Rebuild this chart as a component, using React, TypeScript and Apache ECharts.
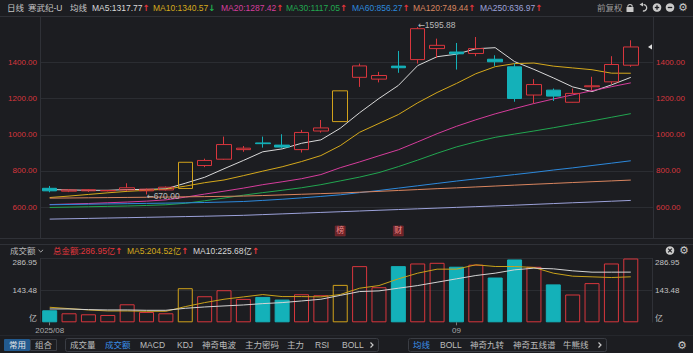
import React, { useEffect, useRef } from 'react';
import * as echarts from 'echarts';

// ---------- data ----------
const dates = [
  '2025-08-01', '2025-08-04', '2025-08-05', '2025-08-06', '2025-08-07', '2025-08-08',
  '2025-08-11', '2025-08-12', '2025-08-13', '2025-08-14', '2025-08-15',
  '2025-08-18', '2025-08-19', '2025-08-20', '2025-08-21', '2025-08-22',
  '2025-08-25', '2025-08-26', '2025-08-27', '2025-08-28', '2025-08-29',
  '2025-09-01', '2025-09-02', '2025-09-03', '2025-09-04', '2025-09-05',
  '2025-09-08', '2025-09-09', '2025-09-10', '2025-09-11', '2025-09-12',
];

// [open, close, low, high]
const ohlc = [
  [704, 690, 682, 717], [688, 695, 683, 700], [690, 696, 684, 700], [690, 692, 687, 695],
  [695, 707, 690, 732], [690, 699, 670, 703], [695, 710, 692, 714], [703, 848, 702, 848],
  [830, 858, 821, 868], [865, 946, 862, 990], [918, 926, 906, 938], [955, 951, 929, 990],
  [943, 932, 926, 1003], [918, 1013, 902, 1027], [1021, 1038, 1012, 1082], [1073, 1243.2, 1072, 1244],
  [1318, 1381, 1265, 1394], [1308, 1328, 1290, 1348], [1380, 1371, 1343, 1464], [1416, 1587, 1394, 1595.88],
  [1477, 1495, 1425, 1532], [1458, 1448, 1361, 1508], [1450, 1477, 1435, 1541], [1418, 1404, 1381, 1440],
  [1376, 1201, 1183, 1394], [1220, 1278, 1174, 1308], [1247, 1214, 1187, 1256], [1180, 1229, 1179, 1256],
  [1266, 1271, 1247, 1321], [1293, 1389, 1280, 1435], [1385, 1486, 1376, 1523],
];
const limitUpIdx = [7, 15];

const ma5 = [697, 695, 693, 693, 697, 698, 701, 732, 765, 812, 858, 906, 922, 953, 972, 1036, 1122, 1201, 1273, 1383, 1432, 1446, 1476, 1482, 1405, 1362, 1315, 1265, 1239, 1276, 1317.77];
const ma10 = [653, 661, 670, 679, 687, 693, 699, 716, 735, 750, 774, 799, 823, 852, 885, 940, 1014, 1063, 1112, 1177, 1234, 1284, 1338, 1377, 1394, 1397, 1380, 1370, 1360, 1341, 1340.57];
const ma20 = [614, 617, 620, 624, 628, 633, 640, 655, 672, 688, 705, 724, 740, 757, 780, 818, 850, 884, 917, 961, 1006, 1047, 1083, 1116, 1145, 1173, 1198, 1221, 1244, 1266, 1287.42];
const ma30 = [598, 600, 602, 604, 606, 609, 613, 621, 635, 650, 666, 680, 693, 707, 724, 745, 766, 791, 824, 860, 898, 933, 961, 986, 1004, 1021, 1039, 1058, 1077, 1097, 1117.05];
const ma60 = [613, 614.5, 616, 617.5, 619, 620.5, 622, 623.5, 625.5, 628, 631, 637, 643.5, 651, 659, 668, 680, 692, 705, 718, 731, 744, 756, 768, 780, 792, 805, 817, 830, 843, 856.27];
const ma120 = [649.5, 650.5, 651.5, 652.5, 653.5, 654.5, 655.5, 657, 658, 659.5, 661, 664, 667.5, 671, 674.5, 678, 682.5, 687, 692, 697, 702, 706.5, 711.5, 716.5, 721.5, 726.5, 731, 736, 740.5, 745, 749.44];
const ma250 = [533.5, 535.5, 537.5, 539.5, 541.5, 543.5, 545.5, 547.5, 549.5, 552, 554.5, 558.5, 562.5, 566.5, 570.5, 574.5, 578.5, 582.5, 586.5, 590.5, 594.5, 598.5, 602.5, 606.5, 610.5, 615, 619.5, 624, 628, 632.5, 636.97];

// turnover, 亿
const volume = [54, 40.5, 36, 33, 81, 46.5, 40.5, 153.3, 117.2, 144.3, 105.2, 114.2, 102.2, 126.2, 121.7, 168.3, 252.6, 157.8, 252.6, 264.6, 267.6, 250, 259, 201.4, 282.6, 249.6, 170.5, 125, 176.2, 264.6, 286.95];
const volMa5 = [67.6, 61.6, 55.5, 51, 51, 49.5, 49.5, 70.6, 88.6, 103.7, 114.2, 124.7, 115.7, 115.7, 114.2, 125, 153.3, 165.3, 195.4, 221, 239, 239, 258.6, 251, 251, 246.5, 221, 207.4, 204.4, 201.4, 204.52];
const volMa10 = [60, 60, 57, 55.5, 55.5, 54, 54, 63, 69, 73.6, 78, 84, 88.6, 96, 103.7, 121, 138.3, 141.3, 153.3, 165.3, 180.4, 195.4, 210.4, 221, 236, 243.5, 240.5, 231.5, 225.5, 225.5, 225.68];

const maLegend = [
  { name: 'MA5', value: '1317.77', up: true },
  { name: 'MA10', value: '1340.57', up: false },
  { name: 'MA20', value: '1287.42', up: true },
  { name: 'MA30', value: '1117.05', up: true },
  { name: 'MA60', value: '856.27', up: true },
  { name: 'MA120', value: '749.44', up: true },
  { name: 'MA250', value: '636.97', up: true },
];
const volLegend = [
  { name: '总金额', value: '286.95亿' },
  { name: 'MA5', value: '204.52亿' },
  { name: 'MA10', value: '225.68亿' },
];
const priceMin = 400;
const priceMax = 1600;
const priceStep = 200;
const volMax = 286.95;
const highMark = { idx: 19, value: 1595.88 };
const lowMark = { idx: 5, value: 670.0 };
const eventMarks = [{ idx: 15, text: '榜' }, { idx: 18, text: '财' }];
const toolbarA = ['成交量', '成交额', 'MACD', 'KDJ', '神奇电波', '主力密码', '主力', 'RSI', 'BOLL'];
const toolbarB = ['均线', 'BOLL', '神奇九转', '神奇五线谱', '牛熊线'];

// ---------- styles ----------
const BG = '#1c1d21';
const UP = '#d8363d';
const DOWN = '#14b1b9';
const LIMIT = '#d1a21b';
const GRIDC = '#2b2d32';
const BORDER = '#2f3137';
const FONT = "'Liberation Sans', 'Noto Sans CJK SC', sans-serif";
const ARROW_FONT = "'DejaVu Sans', sans-serif";
const MA_COLORS = ['#d9d9d9', '#d5a91c', '#d63d9c', '#22a650', '#2d89dc', '#d9855f', '#9ca2da'];
const maSeries = [ma5, ma10, ma20, ma30, ma60, ma120, ma250];

const bandCount = dates.length + 1;
const band = 19.37;

function extremeLabel(v: number, dy: number) {
  return {
    show: true, position: 'right', distance: 0, offset: [0, dy],
    formatter: `{a|←}{t|${v.toFixed(2)}}`,
    rich: {
      a: { color: '#b9b9b9', fontSize: 8.5, fontFamily: ARROW_FONT },
      t: { color: '#b9b9b9', fontSize: 8.5, fontFamily: FONT },
    },
  };
}

function buildOption(): any {
  const cats = [...dates, ''];
  const candleData = ohlc.map((d, i) =>
    limitUpIdx.includes(i)
      ? { value: d, itemStyle: { color: 'transparent', borderColor: LIMIT, borderColor0: LIMIT } }
      : d
  );
  const volData = volume.map((v, i) => {
    const [o, c] = ohlc[i];
    const up = c >= o;
    const lim = limitUpIdx.includes(i);
    return {
      value: v,
      itemStyle: up
        ? { color: 'transparent', borderColor: lim ? LIMIT : UP, borderWidth: 1 }
        : { color: DOWN, borderColor: DOWN, borderWidth: 1 },
    };
  });
  const monthStart = (i: number) =>
    i < dates.length && (i === 0 || dates[i].slice(5, 7) !== dates[i - 1].slice(5, 7));

  const markData: any[] = [
    {
      coord: [dates[highMark.idx], highMark.value], value: highMark.value,
      symbol: 'circle', symbolSize: 0, label: extremeLabel(highMark.value, -2.5),
    },
    {
      coord: [dates[lowMark.idx], lowMark.value], value: lowMark.value,
      symbol: 'circle', symbolSize: 0, label: extremeLabel(lowMark.value, 1.5),
    },
    ...eventMarks.map((m) => ({
      coord: [dates[m.idx], 468], value: 0,
      symbol: 'rect', symbolSize: [10, 10],
      itemStyle: { color: '#6a2227', borderColor: '#8a3036', borderWidth: 0.5 },
      label: { show: true, position: 'inside', formatter: m.text, color: '#ee8a8a', fontSize: 8, fontFamily: FONT },
    })),
  ];

  return {
    animation: false,
    backgroundColor: BG,
    grid: [
      { left: 40, top: 26.35, width: band * bandCount, height: 216.9 },
      { left: 40, top: 26.35, width: 613, height: 216.9 },
      { left: 40, top: 258.5, width: band * bandCount, height: 63.8 },
      { left: 40, top: 258.5, width: 612, height: 63.8 },
    ],
    xAxis: [
      { type: 'category', gridIndex: 0, data: cats, boundaryGap: true, show: false },
      { type: 'value', gridIndex: 1, min: 0, max: 1, show: false },
      {
        type: 'category', gridIndex: 2, data: cats, boundaryGap: true,
        axisLine: { show: false },
        axisTick: { show: true, alignWithLabel: true, interval: (i: number) => monthStart(i), length: 3, lineStyle: { color: '#7a7a7a' } },
        axisLabel: {
          interval: (i: number) => monthStart(i),
          margin: 4, color: '#a9a9a9', fontSize: 8, fontFamily: FONT,
          formatter: (v: string, i: number) => (i === 0 ? v.slice(0, 7).replace('-', '/') : v.slice(5, 7)),
        },
        splitLine: { show: false },
      },
      { type: 'value', gridIndex: 3, min: 0, max: 1, show: false },
    ],
    yAxis: [
      { type: 'value', gridIndex: 0, min: priceMin, max: priceMax, show: false, splitLine: { show: false } },
      {
        type: 'value', gridIndex: 1, position: 'left', min: priceMin, max: priceMax, interval: priceStep,
        axisLine: { show: false }, axisTick: { show: false },
        axisLabel: { color: UP, fontSize: 8, fontFamily: FONT, margin: 3, showMinLabel: false, showMaxLabel: false, formatter: (v: number) => v.toFixed(2) },
        splitLine: { show: true, showMinLine: false, showMaxLine: false, lineStyle: { color: GRIDC, width: 1 } },
      },
      {
        type: 'value', gridIndex: 1, position: 'right', min: priceMin, max: priceMax, interval: priceStep,
        axisLine: { show: false }, axisTick: { show: false },
        axisLabel: { color: UP, fontSize: 8, fontFamily: FONT, margin: 3, showMinLabel: false, showMaxLabel: false, formatter: (v: number) => v.toFixed(2) },
        splitLine: { show: false },
      },
      { type: 'value', gridIndex: 2, min: 0, max: volMax, show: false, splitLine: { show: false } },
      {
        type: 'value', gridIndex: 3, position: 'left', min: 0, max: volMax, interval: volMax / 2,
        axisLine: { show: false }, axisTick: { show: false },
        axisLabel: {
          color: '#c2c2c2', fontSize: 8, fontFamily: FONT, margin: 3,
          verticalAlignMaxLabel: 'top', verticalAlignMinLabel: 'bottom',
          formatter: (v: number) => (v === 0 ? '亿' : (v + 1e-6).toFixed(2)),
        },
        splitLine: { show: true, showMinLine: false, lineStyle: { color: GRIDC, width: 1 } },
      },
      {
        type: 'value', gridIndex: 3, position: 'right', min: 0, max: volMax, interval: volMax / 2,
        axisLine: { show: false }, axisTick: { show: false },
        axisLabel: {
          color: '#c2c2c2', fontSize: 8, fontFamily: FONT, margin: 3,
          verticalAlignMaxLabel: 'top', verticalAlignMinLabel: 'bottom',
          formatter: (v: number) => (v === 0 ? '亿' : (v + 1e-6).toFixed(2)),
        },
        splitLine: { show: false },
      },
    ],
    series: [
      ...maSeries.map((d, k) => ({
        type: 'line', xAxisIndex: 0, yAxisIndex: 0, data: d, showSymbol: false, symbol: 'none',
        lineStyle: { color: MA_COLORS[k], width: 1 }, z: 2, silent: true,
      })),
      {
        type: 'candlestick', xAxisIndex: 0, yAxisIndex: 0, data: candleData, barWidth: 15, z: 3,
        itemStyle: { color: 'transparent', color0: DOWN, borderColor: UP, borderColor0: DOWN, borderWidth: 1 },
        markPoint: { silent: true, animation: false, data: markData },
      },
      {
        type: 'bar', xAxisIndex: 2, yAxisIndex: 3, data: volData, barWidth: 15, z: 2,
      },
      {
        type: 'line', xAxisIndex: 2, yAxisIndex: 3, data: volMa5, showSymbol: false, symbol: 'none',
        lineStyle: { color: '#c9a21a', width: 1 }, z: 4,
      },
      {
        type: 'line', xAxisIndex: 2, yAxisIndex: 3, data: volMa10, showSymbol: false, symbol: 'none',
        lineStyle: { color: '#d4d4d4', width: 1 }, z: 4,
      },
    ],
  };
}

function txt(x: number, y: number, text: string, fill: string, size = 8.5, extra: any = {}) {
  return {
    type: 'text', x, y, silent: true, z: 10,
    style: { text, fill, fontSize: size, fontFamily: FONT, verticalAlign: 'middle', align: 'left', ...extra },
  };
}
function richTxt(x: number, y: number, main: string, color: string, arrow: string, arrowColor: string) {
  return {
    type: 'text', x, y, silent: true, z: 10,
    style: {
      text: `{m|${main}}{a|${arrow}}`,
      verticalAlign: 'middle',
      rich: {
        m: { fill: color, fontSize: 8.5, fontFamily: FONT },
        a: { fill: arrowColor, fontSize: 8.5, fontFamily: ARROW_FONT, fontWeight: 'bold' },
      },
    },
  };
}
function line(x1: number, y1: number, x2: number, y2: number, stroke = BORDER, w = 1) {
  return { type: 'line', silent: true, z: 1, shape: { x1, y1, x2, y2 }, style: { stroke, lineWidth: w } };
}
function box(x: number, y: number, w: number, h: number, stroke: string, fill = 'none', r = 0) {
  return { type: 'rect', silent: true, z: 9, shape: { x, y, width: w, height: h, r }, style: { stroke, fill, lineWidth: 1 } };
}
function circleIcon(cx: number, cy: number, kind: 'plus' | 'minus' | 'x') {
  const els: any[] = [{ type: 'circle', silent: true, z: 10, shape: { cx, cy, r: 4.3 }, style: { fill: '#c9c9c9' } }];
  if (kind === 'plus' || kind === 'minus') els.push(line(cx - 2.2, cy, cx + 2.2, cy, BG, 1.3));
  if (kind === 'plus') els.push(line(cx, cy - 2.2, cx, cy + 2.2, BG, 1.3));
  if (kind === 'x') {
    els.push(line(cx - 1.8, cy - 1.8, cx + 1.8, cy + 1.8, BG, 1.2));
    els.push(line(cx - 1.8, cy + 1.8, cx + 1.8, cy - 1.8, BG, 1.2));
  }
  els.forEach((e) => (e.z = 11));
  els[0].z = 10;
  return els;
}

function buildGraphics(lastY: number): any[] {
  const g: any[] = [];
  // panel frames
  g.push(line(0, 16.5, 693, 16.5));
  g.push(line(40.5, 16.5, 40.5, 238));
  g.push(line(653.5, 16.5, 653.5, 238));
  g.push(line(0, 238.5, 693, 238.5));
  g.push(line(0, 244.5, 693, 244.5));
  g.push(line(40.5, 258, 40.5, 322.5));
  g.push(line(652.5, 258, 652.5, 322.5));
  g.push(line(0, 335.5, 693, 335.5, '#25272c'));

  // header
  g.push(txt(7, 7.5, '日线', '#c6c6c6'));
  g.push(txt(28, 7.5, '寒武纪-U', '#c6c6c6'));
  g.push(txt(70, 7.5, '均线', '#c6c6c6'));
  const mx = [92, 153, 221, 286, 352, 413, 480];
  maLegend.forEach((m, k) => {
    g.push(richTxt(mx[k], 7.5, `${m.name}:${m.value}`, MA_COLORS[k], m.up ? '↑' : '↓', m.up ? '#e0363c' : '#20b04f'));
  });
  g.push(txt(597, 7.5, '前复权', '#9c9c9c'));
  // lock
  g.push({ type: 'rect', silent: true, z: 10, shape: { x: 626.5, y: 7, width: 7, height: 5, r: 0.5 }, style: { fill: '#c9c9c9' } });
  g.push({ type: 'arc', silent: true, z: 10, shape: { cx: 630, cy: 6.8, r: 2.3, startAngle: Math.PI, endAngle: Math.PI * 2 }, style: { stroke: '#c9c9c9', lineWidth: 1.2, fill: 'none' } });
  // undo
  g.push({ type: 'arc', silent: true, z: 10, shape: { cx: 643.5, cy: 7.8, r: 3.2, startAngle: -Math.PI / 2, endAngle: Math.PI / 2 + 0.2 }, style: { stroke: '#c9c9c9', lineWidth: 1.3, fill: 'none' } });
  g.push({ type: 'polygon', silent: true, z: 10, shape: { points: [[639.5, 4.6], [643, 2.6], [643, 6.6]] }, style: { fill: '#c9c9c9' } });
  g.push(...circleIcon(657, 7.5, 'plus'));
  g.push(...circleIcon(670, 7.5, 'minus'));
  g.push(txt(678, 7.5, '⚙', '#c9c9c9', 11, { fontFamily: ARROW_FONT }));

  // current price marker
  g.push({ type: 'polygon', silent: true, z: 12, shape: { points: [[648, lastY], [652, lastY - 2.6], [652, lastY + 2.6]] }, style: { fill: '#dedede' } });

  // volume header
  g.push(txt(10, 251, '成交额', '#b9b9b9'));
  g.push({ type: 'polyline', silent: true, z: 10, shape: { points: [[38.5, 249.8], [40.8, 252], [43.1, 249.8]] }, style: { stroke: '#a9a9a9', lineWidth: 1, fill: 'none' } });
  const vx = [53, 127, 193];
  const vc = ['#e0363c', '#d5a91c', '#d6d6d6'];
  volLegend.forEach((v, k) => g.push(richTxt(vx[k], 251, `${v.name}:${v.value}`, vc[k], '↑', '#e0363c')));
  g.push(...circleIcon(670, 250.5, 'x'));
  g.push(txt(679, 250.5, '⚙', '#c9c9c9', 11, { fontFamily: ARROW_FONT }));

  // bottom toolbar
  g.push({ type: 'rect', silent: true, z: 9, shape: { x: 4, y: 339, width: 26, height: 12, r: 1 }, style: { fill: '#225a8f' } });
  g.push(txt(9, 345, '常用', '#e6e6e6'));
  g.push(box(30.5, 339.5, 26, 11, '#3a3d44'));
  g.push(txt(35, 345, '组合', '#bdbdbd'));
  g.push(box(65.5, 338.5, 313, 13, '#3a3d44', 'none', 2));
  const ax = [70, 105, 140, 177, 202, 245, 287, 315, 342];
  toolbarA.forEach((t, k) => g.push(txt(ax[k], 345, t, t === '成交额' ? '#3b8fe8' : '#bdbdbd')));
  g.push({ type: 'polyline', silent: true, z: 10, shape: { points: [[370.5, 342.5], [373, 345], [370.5, 347.5]] }, style: { stroke: '#c9c9c9', lineWidth: 1.2, fill: 'none' } });
  g.push(box(408.5, 338.5, 198, 13, '#3a3d44', 'none', 2));
  const bx = [413, 440, 470, 513, 563];
  toolbarB.forEach((t, k) => g.push(txt(bx[k], 345, t, t === '均线' ? '#3b8fe8' : '#bdbdbd')));
  g.push({ type: 'polyline', silent: true, z: 10, shape: { points: [[598.5, 342.5], [601, 345], [598.5, 347.5]] }, style: { stroke: '#c9c9c9', lineWidth: 1.2, fill: 'none' } });
  g.push(txt(677, 345, '⚙', '#c9c9c9', 11, { fontFamily: ARROW_FONT }));
  return g;
}

export default function App() {
  const ref = useRef<HTMLDivElement>(null);
  useEffect(() => {
    const el = ref.current;
    if (!el) return;
    const chart = echarts.init(el, null, { renderer: 'svg' });
    chart.setOption(buildOption());
    const lastClose = ohlc[ohlc.length - 1][1];
    const py = chart.convertToPixel({ yAxisIndex: 0 }, lastClose) as number;
    chart.setOption({ graphic: buildGraphics(py) });
    return () => chart.dispose();
  }, []);
  return (
    <div
      ref={ref}
      style={{ position: 'absolute', left: 0, top: 0, width: 693, height: 353, background: BG }}
    />
  );
}
